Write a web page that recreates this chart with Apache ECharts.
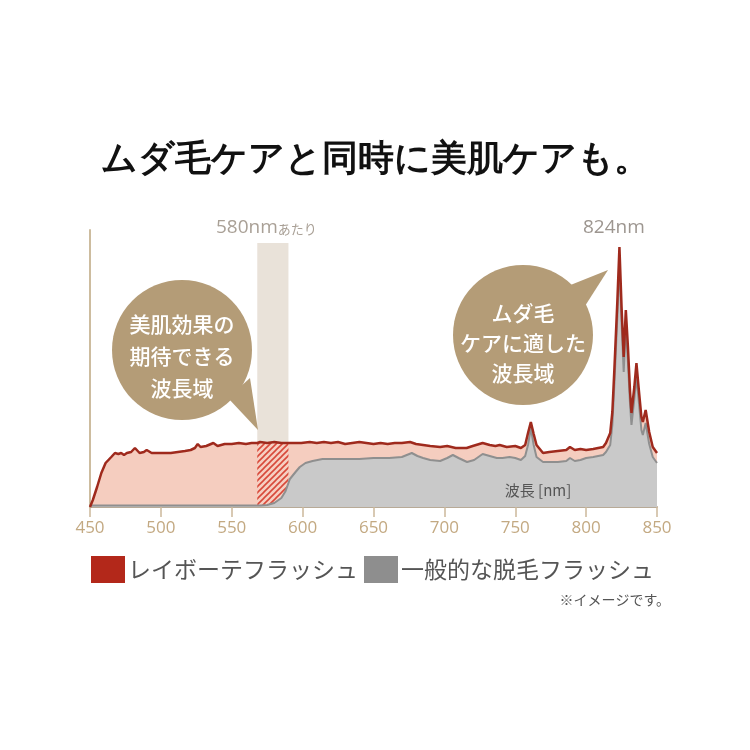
<!DOCTYPE html>
<html>
<head>
<meta charset="utf-8">
<script src="https://cdn.jsdelivr.net/npm/echarts@6/dist/echarts.min.js"></script>
<style>
  html, body { margin: 0; padding: 0; background: #ffffff; }
  #chart { width: 750px; height: 750px; }
</style>
</head>
<body>
<div id="chart"></div>
<script>
  // 波長 (nm) と相対強度（目視で読み取り）
  const raybeauteNm = [450,452,455,458,461,465,467.6,470,472,474,476,479,481.7,485,488,490,493.5,497,500,507,512,517,521,524,526,528,532,537,540,545,550,555,560,564,568,570,575,580,585,590,595,599,605,610,615,620,625,630,635,640,645,650,655,660,665,670,675.8,680,685,690,697,702,708,715.7,720,727,732,736,739,744,750,754,757,759,761,763,765,769.6,774,780,786,788.6,792,796,800,805,812,814,817,818.5,820,822,823.5,825,826.5,828,829.5,831,832,834,835.5,837,839,840,842,843,844.5,847,850];
  const raybeauteVal = [0,7,20,34,44,50,54,53,54,52,54,55,59,54,55,57,54,54,54,54,55,56,57,59,63,60,61,64,61,63,63,64,63,64,64,65,64,65,64,64,64,64,65,64,65,64,65,63,64,65,64,63,64,63,64,64,65,63,62,61,60,61,59,59,61,64,62,61,62,60,61,59,62,74,85,73,62,54,55,56,57,60,57,58,57,58,60,64,74,95,140,205,260,200,150,197,160,115,94,120,144,120,90,85,97,97,75,60,54];

  const generalNm = [450,500,550,570,575,580,585,588,591,595,598,602,607,614,620,630,640,650,661,670,677,681,685,690,697,702,706,710,716,721,727,732,737,741,746,750,754,757,759,761,763,765,769.6,775,780,786,788.6,792,796,800,805,812,814,817,818.5,820,822,823.5,825,826.5,828,829.5,831,832,834,835.5,837,839,840,842,843,844.5,847,850];
  const generalVal = [1.5,1.5,1.5,1.5,2,4,9,16,28,35,40,44,46,48,48,48,48,49,49,50,54,51,49,47,46,49,52,49,45,47,53,51,49,49,50,49,47,51,62,79,62,50,45,45,45,46,49,46,47,49,50,52,55,62,82,125,190,245,185,135,182,145,102,82,108,130,108,77,72,84,84,63,50,44];

  const hatchRange = [568, 590];
  const bandRange = [568, 590];
  const xTicks = [450, 850, 50];

  const toPairs = (xs, ys) => xs.map((x, i) => [x, ys[i]]);
  const raybeauteData = toPairs(raybeauteNm, raybeauteVal);
  const generalData = toPairs(generalNm, generalVal);
  const hatchData = raybeauteData.filter(p => p[0] >= hatchRange[0] && p[0] <= hatchRange[1]);

  // 斜線パターン
  const hatch = document.createElement('canvas');
  hatch.width = 6; hatch.height = 6;
  const hc = hatch.getContext('2d');
  hc.fillStyle = '#f6cfc2';
  hc.fillRect(0, 0, 6, 6);
  hc.strokeStyle = '#d8493a';
  hc.lineWidth = 1.6;
  hc.beginPath();
  hc.moveTo(-1, 7); hc.lineTo(7, -1);
  hc.moveTo(-1, 1); hc.lineTo(1, -1);
  hc.moveTo(5, 7); hc.lineTo(7, 5);
  hc.stroke();

  const jp = '"Noto Sans CJK JP", sans-serif';
  const latin = '"Open Sans", "Noto Sans", sans-serif';
  const bubble = '#b49c77';

  let myChart = echarts.init(document.getElementById('chart'));
  let option = {
    backgroundColor: '#ffffff',
    animation: false,
    grid: { left: 90, right: 93, top: 230, bottom: 243 },
    legend: {
      left: 86,
      top: 551,
      itemWidth: 34,
      itemHeight: 27,
      itemGap: 6,
      icon: 'rect',
      textStyle: { fontSize: 23, color: '#555555', fontFamily: jp, padding: [0, 0, 0, -2] },
      data: [
        { name: 'レイボーテフラッシュ', itemStyle: { color: '#b3281a' } },
        { name: '一般的な脱毛フラッシュ', itemStyle: { color: '#8e8e8e' } }
      ]
    },
    xAxis: {
      type: 'value',
      min: xTicks[0],
      max: xTicks[1],
      interval: xTicks[2],
      splitLine: { show: false },
      axisLine: { lineStyle: { color: '#b8aa97', width: 2 } },
      axisTick: { length: 10, lineStyle: { color: '#cbb89b', width: 1.5 } },
      axisLabel: { color: '#c3a982', fontSize: 17, fontFamily: latin, margin: 13 }
    },
    yAxis: {
      type: 'value',
      min: 0,
      max: 277,
      splitLine: { show: false },
      axisLabel: { show: false },
      axisTick: { show: false },
      axisLine: { show: true, lineStyle: { color: '#cdbc9f', width: 2 } }
    },
    series: [
      {
        name: 'band',
        type: 'line',
        data: [],
        z: 1,
        silent: true,
        markArea: {
          silent: true,
          itemStyle: { color: '#e9e2d9' },
          data: [[{ xAxis: bandRange[0], yAxis: 0 }, { xAxis: bandRange[1], yAxis: 264 }]]
        }
      },
      {
        name: 'raybeaute-fill',
        type: 'line',
        data: raybeauteData,
        z: 2,
        showSymbol: false,
        lineStyle: { width: 0 },
        areaStyle: { color: '#f5cdbf', opacity: 1 }
      },
      {
        name: 'hatch',
        type: 'line',
        data: hatchData,
        z: 3,
        showSymbol: false,
        lineStyle: { width: 0 },
        areaStyle: { color: { image: hatch, repeat: 'repeat' }, opacity: 1 }
      },
      {
        name: '一般的な脱毛フラッシュ',
        type: 'line',
        data: generalData,
        z: 4,
        showSymbol: false,
        lineStyle: { color: '#8f8f8f', width: 2 },
        itemStyle: { color: '#8e8e8e' },
        areaStyle: { color: '#c9c9c9', opacity: 1 }
      },
      {
        name: 'レイボーテフラッシュ',
        type: 'line',
        data: raybeauteData,
        z: 5,
        showSymbol: false,
        lineStyle: { color: '#9f2a1d', width: 2.5 },
        itemStyle: { color: '#b3281a' }
      }
    ],
    graphic: [
      {
        type: 'text', left: 'center', top: 142,
        style: { text: 'ムダ毛ケアと同時に美肌ケアも。', fontSize: 36, fontWeight: 'bold', fill: '#111111', font: 'bold 36px ' + jp }
      },
      {
        type: 'text', x: 216, y: 228, z: 10,
        style: {
          text: '{a|580nm}{b|あたり}',
          verticalAlign: 'middle',
          rich: {
            a: { fontSize: 19, fill: '#a9a096', fontFamily: latin },
            b: { fontSize: 13, fill: '#a9a096', fontFamily: jp, padding: [3, 0, 0, 0] }
          }
        }
      },
      {
        type: 'text', x: 583, y: 228, z: 10,
        style: { text: '824nm', fontSize: 19, fill: '#9d9690', fontFamily: latin, verticalAlign: 'middle' }
      },
      // 左の吹き出し
      { type: 'polygon', z: 10, shape: { points: [[228, 398], [250, 378], [258, 430]] }, style: { fill: bubble } },
      { type: 'circle', z: 10, shape: { cx: 182, cy: 350, r: 70 }, style: { fill: bubble } },
      {
        type: 'text', z: 11, x: 182, y: 308,
        style: { text: '美肌効果の\n期待できる\n波長域', fontSize: 21, lineHeight: 32, fill: '#ffffff', fontFamily: jp, fontWeight: 500, align: 'center', verticalAlign: 'top' }
      },
      // 右の吹き出し
      { type: 'polygon', z: 10, shape: { points: [[568, 286], [608, 270], [585, 306]] }, style: { fill: bubble } },
      { type: 'circle', z: 10, shape: { cx: 523, cy: 335, r: 70 }, style: { fill: bubble } },
      {
        type: 'text', z: 11, x: 523, y: 298,
        style: { text: 'ムダ毛\nケアに適した\n波長域', fontSize: 21, lineHeight: 30, fill: '#ffffff', fontFamily: jp, fontWeight: 500, align: 'center', verticalAlign: 'top' }
      },
      {
        type: 'text', z: 11, x: 538, y: 490,
        style: { text: '波長 [nm]', fontSize: 15, fill: '#555555', fontFamily: jp, align: 'center', verticalAlign: 'middle' }
      },
      {
        type: 'text', z: 11, x: 670, y: 600,
        style: { text: '※イメージです。', fontSize: 14, fill: '#555555', fontFamily: jp, align: 'right', verticalAlign: 'middle' }
      }
    ]
  };
  myChart.setOption(option);
  window.addEventListener('resize', function() { myChart.resize() });
</script>
</body>
</html>
